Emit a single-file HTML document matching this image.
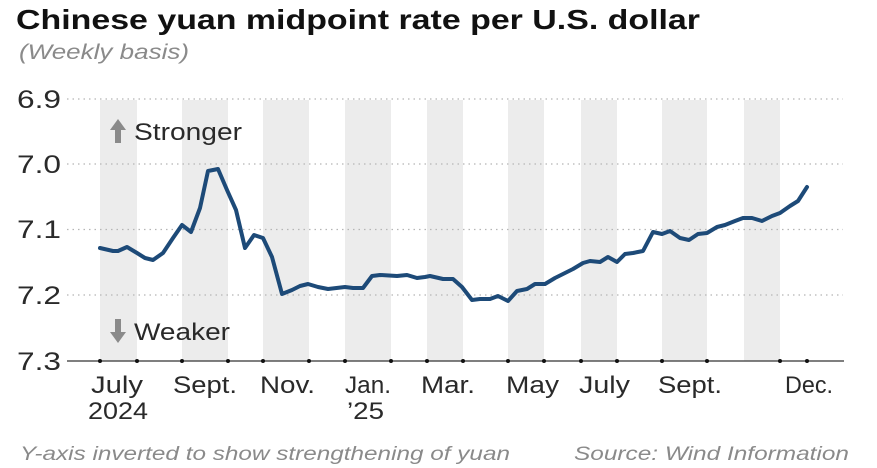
<!DOCTYPE html>
<html><head><meta charset="utf-8"><style>
html,body{margin:0;padding:0;background:#fff;}
svg{display:block;font-family:"Liberation Sans",sans-serif;}
</style></head><body>
<svg width="877" height="468" viewBox="0 0 877 468" xmlns="http://www.w3.org/2000/svg">
<rect width="877" height="468" fill="#fff"/>
<text x="16" y="29" font-size="28" font-weight="bold" fill="#111" textLength="684" lengthAdjust="spacingAndGlyphs">Chinese yuan midpoint rate per U.S. dollar</text>
<text x="19" y="59" font-size="21" font-style="italic" fill="#8a8a8a" textLength="170" lengthAdjust="spacingAndGlyphs">(Weekly basis)</text>
<g fill="#ececec">
<rect x="100" y="100" width="37" height="261"/>
<rect x="182" y="100" width="46" height="261"/>
<rect x="263" y="100" width="46" height="261"/>
<rect x="345" y="100" width="46" height="261"/>
<rect x="427" y="100" width="36" height="261"/>
<rect x="508" y="100" width="36" height="261"/>
<rect x="581" y="100" width="36" height="261"/>
<rect x="662" y="100" width="45" height="261"/>
<rect x="744" y="100" width="36" height="261"/>
</g>
<g stroke="#b5b5b5" stroke-width="1.2" stroke-dasharray="1.5 4">
<line x1="67" y1="99" x2="843" y2="99"/>
<line x1="67" y1="164" x2="843" y2="164"/>
<line x1="67" y1="229.5" x2="843" y2="229.5"/>
<line x1="67" y1="295" x2="843" y2="295"/>
</g>
<line x1="67" y1="361" x2="844" y2="361" stroke="#555" stroke-width="1.5"/>
<g fill="#111">
<circle cx="100" cy="361" r="2"/><circle cx="137" cy="361" r="2"/><circle cx="182" cy="361" r="2"/><circle cx="228" cy="361" r="2"/><circle cx="263" cy="361" r="2"/><circle cx="309" cy="361" r="2"/><circle cx="345" cy="361" r="2"/><circle cx="391" cy="361" r="2"/><circle cx="427" cy="361" r="2"/><circle cx="463" cy="361" r="2"/><circle cx="508" cy="361" r="2"/><circle cx="544" cy="361" r="2"/><circle cx="581" cy="361" r="2"/><circle cx="617" cy="361" r="2"/><circle cx="662" cy="361" r="2"/><circle cx="707" cy="361" r="2"/><circle cx="780" cy="361" r="2"/><circle cx="807" cy="361" r="2"/>
</g>
<g font-size="25" fill="#2a2a2a">
<text x="17" y="108" textLength="44" lengthAdjust="spacingAndGlyphs">6.9</text>
<text x="17" y="173" textLength="44" lengthAdjust="spacingAndGlyphs">7.0</text>
<text x="17" y="238" textLength="44" lengthAdjust="spacingAndGlyphs">7.1</text>
<text x="17" y="304" textLength="44" lengthAdjust="spacingAndGlyphs">7.2</text>
<text x="17" y="370" textLength="44" lengthAdjust="spacingAndGlyphs">7.3</text>
</g>
<g fill="#8a8a8a">
<rect x="115" y="129" width="6" height="14"/>
<polygon points="110,130 118,119 126,130"/>
<rect x="115" y="319" width="6" height="14"/>
<polygon points="110,332 118,343 126,332"/>
</g>
<text x="134" y="140" font-size="24" fill="#2a2a2a" textLength="108" lengthAdjust="spacingAndGlyphs">Stronger</text>
<text x="134" y="340" font-size="24" fill="#2a2a2a" textLength="96" lengthAdjust="spacingAndGlyphs">Weaker</text>
<polyline fill="none" stroke="#1d4a78" stroke-width="4" stroke-linejoin="round" stroke-linecap="round" points="100,248 113,251 118,251 127,247 137,253 145,258 153,260 163,253 173,238 182,225 191,232 200,208 208,171 218,169 227,190 236,210 245,248 254,235 263,238 272,257 282,294 292,290 300,286 308,284 318,287 328,289 345,287 353,288 363,288 372,276 380,275 397,276 407,275 417,278 425,277 430,276 443,279 453,279 462,287 472,300 480,299 490,299 498,296 508,301 517,291 527,289 535,284 545,284 555,278 563,274 573,269 583,263 590,261 600,262 608,257 617,262 625,254 633,253 643,251 653,232 662,234 670,231 680,238 689,240 698,234 707,233 717,227 725,225 735,221 743,218 752,218 762,221 772,216 780,213 790,206 798,201 807,187"/>
<g font-size="24" fill="#2a2a2a" lengthAdjust="spacingAndGlyphs">
<text x="91" y="393" textLength="52" lengthAdjust="spacingAndGlyphs">July</text>
<text x="88" y="419" textLength="60" lengthAdjust="spacingAndGlyphs">2024</text>
<text x="173" y="393" textLength="64" lengthAdjust="spacingAndGlyphs">Sept.</text>
<text x="260" y="393" textLength="55" lengthAdjust="spacingAndGlyphs">Nov.</text>
<text x="345" y="393" textLength="46" lengthAdjust="spacingAndGlyphs">Jan.</text>
<text x="347" y="419" textLength="37" lengthAdjust="spacingAndGlyphs">’25</text>
<text x="421" y="393" textLength="54" lengthAdjust="spacingAndGlyphs">Mar.</text>
<text x="506" y="393" textLength="53" lengthAdjust="spacingAndGlyphs">May</text>
<text x="579" y="393" textLength="51" lengthAdjust="spacingAndGlyphs">July</text>
<text x="658" y="393" textLength="64" lengthAdjust="spacingAndGlyphs">Sept.</text>
<text x="785" y="393" textLength="48" lengthAdjust="spacingAndGlyphs">Dec.</text>
</g>
<text x="20" y="460" font-size="19" font-style="italic" fill="#8a8a8a" textLength="490" lengthAdjust="spacingAndGlyphs">Y-axis inverted to show strengthening of yuan</text>
<text x="574" y="460" font-size="19" font-style="italic" fill="#8a8a8a" textLength="275" lengthAdjust="spacingAndGlyphs">Source: Wind Information</text>
</svg>
</body></html>
